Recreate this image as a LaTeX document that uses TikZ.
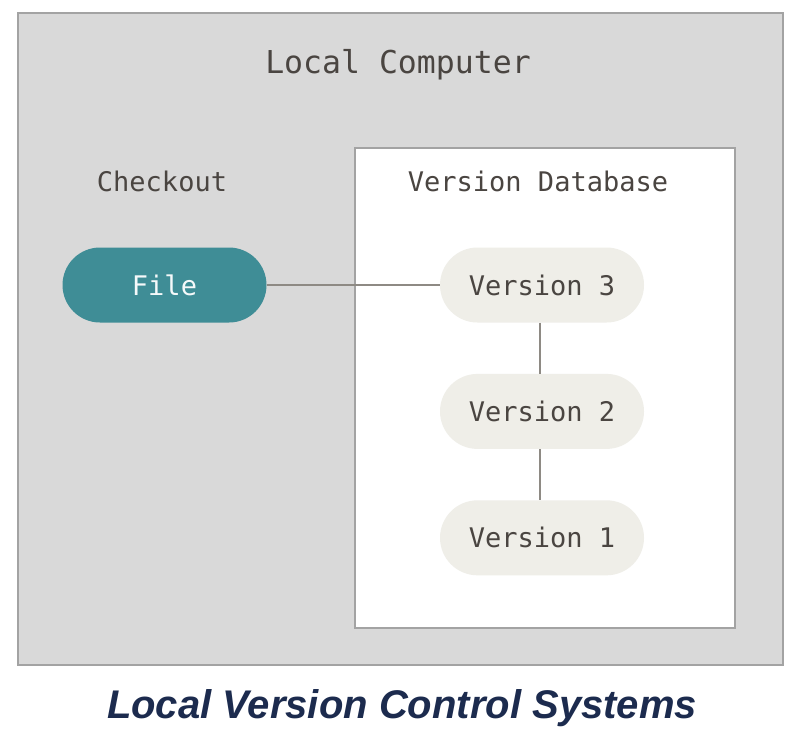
\documentclass[tikz,border=0pt]{standalone}
\usepackage{fontspec}
\setmonofont{DejaVu Sans Mono}
\setsansfont{Liberation Sans}
\usetikzlibrary{positioning}
\definecolor{boxgray}{HTML}{D9D9D9}
\definecolor{edgegray}{HTML}{A3A3A3}
\definecolor{fileteal}{HTML}{3F8D96}
\definecolor{pillcream}{HTML}{EFEEE8}
\definecolor{linkgray}{HTML}{8E8A84}
\definecolor{labeltext}{HTML}{4A4541}
\definecolor{titlenavy}{HTML}{1C2B4E}
\tikzset{
  pill/.style={rounded corners=37.5pt, minimum width=204pt, minimum height=75pt,
    inner sep=0pt, font=\ttfamily\fontsize{27}{30}\selectfont},
  version/.style={pill, fill=pillcream, text=labeltext},
  frame/.style={draw=edgegray, line width=1.8pt},
  caption/.style={anchor=base, text=labeltext, font=\ttfamily\fontsize{27}{30}\selectfont},
  link/.style={draw=linkgray, line width=1.5pt},
}
\begin{document}
\begin{tikzpicture}[x=1pt,y=-1pt]
    \useasboundingbox (0,0) rectangle (802,748);
    \fill[white] (0,0) rectangle (802,748);
    % local computer box
    \draw[frame, fill=boxgray] (18,13) rectangle (783,665);
    \node[caption, font=\ttfamily\fontsize{31.5}{34}\selectfont] (computer) at (398,73) {Local Computer};
    % checkout side
    \node[caption] (checkout) at (162,191) {Checkout};
    \node[pill, fill=fileteal, text=white!95!fileteal] (file) at (164.5,285) {File};
    % version database box
    \draw[frame, fill=white] (355,148) rectangle (735,628);
    \node[caption] (dbname) at (538,191) {Version Database};
    \node[version] (v3) at (542,285) {Version 3};
    \node[version, below=51pt of v3] (v2) {Version 2};
    \node[version, below=51pt of v2] (v1) {Version 1};
    % links
    \draw[link] (file.east) -- (v3.west);
    \draw[link] ([xshift=-2pt]v3.south) -- ([xshift=-2pt]v2.north);
    \draw[link] ([xshift=-2pt]v2.south) -- ([xshift=-2pt]v1.north);
    % caption
    \node[anchor=base, text=titlenavy, font=\sffamily\bfseries\itshape\fontsize{40}{44}\selectfont] (title) at (402,718) {Local Version Control Systems};
\end{tikzpicture}
\end{document}
